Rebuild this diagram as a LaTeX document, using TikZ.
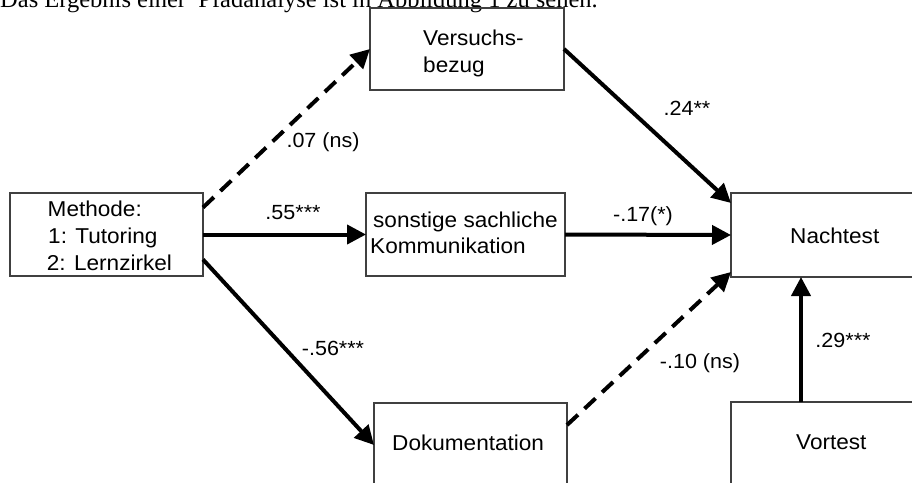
\documentclass[tikz,border=0pt]{standalone}
\usepackage{fontspec}
\setmainfont{Liberation Sans}[FakeStretch=1.05]
\newfontfamily\hdrfont{Liberation Serif}
\usetikzlibrary{arrows.meta}
\tikzset{
  box/.style={draw=black!75, line width=1.1pt, inner sep=0pt, outer sep=0pt, anchor=north west},
  txt/.style={anchor=base west, inner sep=0pt, font=\fontsize{21.5}{26}\selectfont},
  lbl/.style={inner sep=0pt, font=\fontsize{20.5}{24}\selectfont},
  arr/.style={line width=4pt, -{Triangle[length=19pt,width=19pt]}},
  dsh/.style={arr, dash pattern=on 15pt off 9pt},
}
\begin{document}
\begin{tikzpicture}[x=1pt,y=-1pt]
\clip (0,0) rectangle (912,482);
\fill[white] (0,0) rectangle (912,482);
% header line (cut off at top)
\node[anchor=base west, inner sep=0pt] (hdr) at (0,7.5) {\hdrfont\fontsize{24.5pt}{29pt}\selectfont Das Ergebnis einer\ \ Pfadanalyse ist in Abbildung 1 zu sehen.};
% boxes
\node[box, minimum width=193pt, minimum height=83pt] (meth) at (10,193) {};
\node[box, minimum width=194pt, minimum height=82pt] (vers) at (370,8) {};
\node[box, minimum width=199pt, minimum height=83pt] (sonst) at (366,193) {};
\node[box, minimum width=240pt, minimum height=84pt] (nach) at (731,193) {};
\node[box, minimum width=193pt, minimum height=120pt] (dok) at (374,403) {};
\node[box, minimum width=240pt, minimum height=120pt] (vort) at (731,402) {};
% box texts
\node[txt] (t1) at (47.5,216.5) {Methode:};
\node[txt] (t2) at (48,243) {1: Tutoring};
\node[txt] (t3) at (46.7,270) {2: Lernzirkel};
\node[txt] (t4) at (423,45) {Versuchs-};
\node[txt] (t5) at (423,72) {bezug};
\node[txt] (t6) at (373,227) {sonstige sachliche};
\node[txt] (t7) at (370,253) {Kommunikation};
\node[txt] (t8) at (790,243) {Nachtest};
\node[txt] (t9) at (392,450) {Dokumentation};
\node[txt] (t10) at (796,449) {Vortest};
% connectors
\draw[dsh] ([yshift=27pt]meth.east) -- (vers.west);
\draw[arr] (meth.east) -- (sonst.west);
\draw[arr] ([yshift=-25pt]meth.east) -- ([yshift=-42pt]dok.north west);
\draw[arr] (vers.east) -- ([yshift=-10pt]nach.north west);
\draw[arr] (sonst.east) -- (nach.west);
\draw[dsh] ([yshift=-22pt]dok.north east) -- ([yshift=5pt]nach.south west);
\draw[arr] ([xshift=70pt]vort.north west) -- ([xshift=70pt]nach.south west);
% path labels
\node[lbl] (l1) at (323,142) {.07 (ns)};
\node[lbl] (l2) at (293,213) {.55***};
\node[lbl] (l3) at (333,348) {-.56***};
\node[lbl] (l4) at (687,108) {.24**};
\node[lbl] (l5) at (643,216) {-.17(*)};
\node[lbl] (l6) at (700,363) {-.10 (ns)};
\node[lbl] (l7) at (843,340) {.29***};
\end{tikzpicture}
\end{document}
